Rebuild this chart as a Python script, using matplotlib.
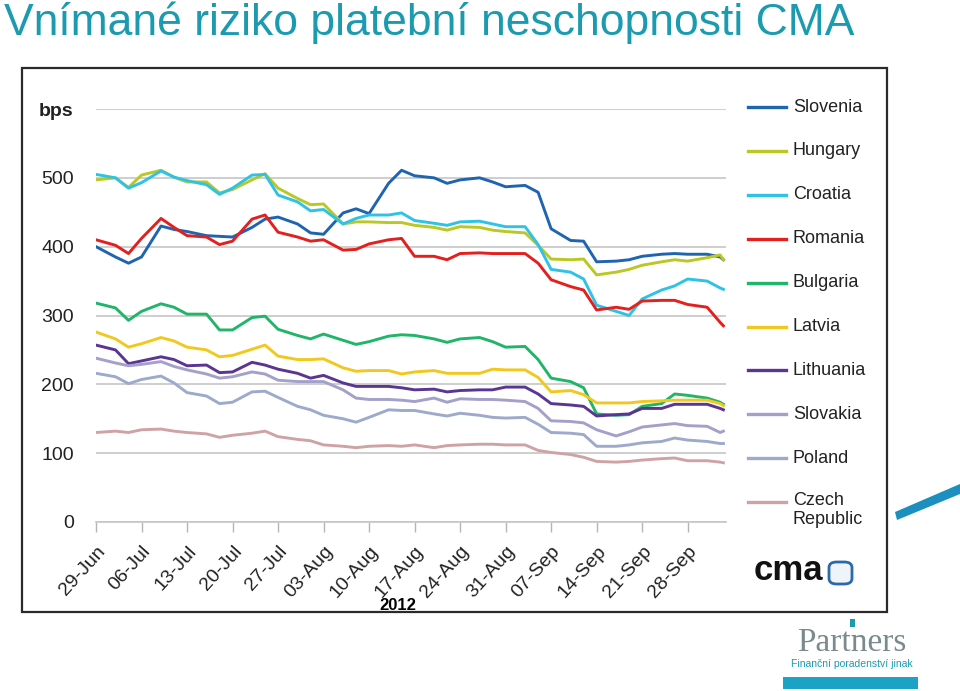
import matplotlib
matplotlib.use("Agg")
import matplotlib.pyplot as plt
from matplotlib.lines import Line2D
from matplotlib.patches import Rectangle, FancyBboxPatch, Polygon

# ---------------- data (days since 29-Jun-2012, spreads in bps) ----------------
days = [0, 3, 5, 7, 10, 12, 14, 17, 19, 21, 24, 26, 28, 31, 33, 35, 38, 40, 42, 45,
        47, 49, 52, 54, 56, 59, 61, 63, 66, 68, 70, 73, 75, 77, 80, 82, 84, 87, 89, 91,
        94, 96, 96.5]

slovenia = [400, 385, 376, 385, 430, 425, 422, 416, 415, 414, 428, 440, 443, 433, 420, 418, 449, 455, 448, 492,
            511, 503, 500, 492, 497, 500, 494, 487, 489, 479, 426, 409, 408, 378, 379, 381, 386, 389, 390, 389,
            389, 385, 381]
hungary = [497, 500, 486, 504, 511, 501, 494, 494, 478, 483, 497, 506, 485, 470, 461, 462, 433, 436, 436, 435,
           435, 431, 428, 424, 429, 428, 424, 422, 420, 402, 382, 381, 382, 359, 363, 367, 373, 378, 381, 379,
           384, 388, 381]
croatia = [505, 500, 485, 493, 510, 501, 496, 490, 476, 485, 504, 505, 475, 465, 452, 454, 433, 441, 446, 446,
           449, 438, 434, 431, 436, 437, 433, 429, 429, 403, 367, 363, 353, 315, 306, 300, 324, 337, 343, 353,
           350, 340, 338]
romania = [410, 402, 390, 412, 441, 428, 416, 414, 403, 408, 440, 446, 421, 414, 408, 410, 395, 396, 404, 410,
           412, 386, 386, 381, 390, 391, 390, 390, 390, 376, 352, 342, 337, 308, 312, 309, 321, 322, 322, 316,
           312, 290, 285]
bulgaria = [318, 311, 293, 306, 317, 312, 302, 302, 279, 279, 297, 299, 280, 271, 266, 273, 264, 258, 262, 270,
            272, 271, 266, 261, 266, 268, 262, 254, 255, 236, 209, 204, 195, 157, 155, 156, 168, 172, 186, 184,
            180, 174, 171]
latvia = [276, 266, 254, 259, 268, 263, 254, 250, 240, 242, 251, 257, 241, 236, 236, 237, 224, 219, 220, 220,
          215, 218, 220, 216, 216, 216, 222, 221, 221, 210, 189, 191, 185, 173, 173, 173, 175, 176, 177, 177,
          177, 172, 169]
lithuania = [257, 250, 230, 234, 240, 236, 227, 228, 217, 218, 232, 228, 222, 216, 209, 213, 202, 197, 197, 197,
             195, 192, 193, 189, 191, 192, 192, 196, 196, 186, 172, 170, 168, 154, 156, 157, 165, 165, 171, 171,
             171, 165, 163]
slovakia = [238, 231, 227, 229, 233, 226, 221, 215, 209, 211, 218, 215, 206, 204, 204, 204, 192, 180, 178, 178,
            177, 175, 180, 174, 179, 178, 178, 177, 175, 165, 147, 146, 144, 134, 125, 131, 138, 141, 143, 140,
            139, 130, 132]
poland = [216, 211, 201, 207, 212, 202, 188, 183, 172, 174, 189, 190, 181, 168, 163, 155, 150, 145, 152, 163,
          162, 162, 157, 154, 158, 155, 152, 151, 152, 142, 130, 129, 127, 110, 110, 112, 115, 117, 122, 119,
          117, 114, 114]
czech = [130, 132, 130, 134, 135, 132, 130, 128, 123, 126, 129, 132, 124, 120, 118, 112, 110, 108, 110, 111,
         110, 112, 108, 111, 112, 113, 113, 112, 112, 104, 101, 98, 94, 88, 87, 88, 90, 92, 93, 89,
         89, 87, 86]

country_names = ["Slovenia", "Hungary", "Croatia", "Romania", "Bulgaria", "Latvia",
                 "Lithuania", "Slovakia", "Poland", "Czech\nRepublic"]
series = [slovenia, hungary, croatia, romania, bulgaria, latvia, lithuania, slovakia, poland, czech]
colors = ["#1f64b0", "#b9c823", "#2ec3e6", "#e3201e", "#21b56a", "#f1c91e",
          "#5b3593", "#a3a0c9", "#9eaacb", "#cfa3a6"]

tick_days = [0, 7, 14, 21, 28, 35, 42, 49, 56, 63, 70, 77, 84, 91]
tick_labels = ["29-Jun", "06-Jul", "13-Jul", "20-Jul", "27-Jul", "03-Aug", "10-Aug",
               "17-Aug", "24-Aug", "31-Aug", "07-Sep", "14-Sep", "21-Sep", "28-Sep"]
y_ticks = [0, 100, 200, 300, 400, 500, 600]
y_labels = ["0", "100", "200", "300", "400", "500", "bps"]

# ---------------- figure ----------------
W, H = 960, 691
fig = plt.figure(figsize=(W / 100, H / 100), dpi=100)
plt.rcParams['font.family'] = ['Liberation Sans', 'DejaVu Sans']


def fx(px):
    return px / W


def fy(py):
    return 1 - py / H


fig.text(fx(4), fy(35), "Vnímané riziko platební neschopnosti CMA", fontsize=32,
         color="#1a9bb0", ha="left", va="baseline")

fig.patches.append(Rectangle((fx(22), fy(612)), 865 / W, 544 / H, transform=fig.transFigure,
                             fill=False, lw=1.6, ec="#2a2a2a"))

ax = fig.add_axes([fx(96), fy(522), 630 / W, 413 / H])
for name, vals, c in zip(country_names, series, colors):
    ax.plot(days, vals, color=c, lw=2.1, solid_joinstyle="round")

ax.set_xlim(0, 96.9)
ax.set_ylim(0, 600)
ax.set_yticks(y_ticks)
ax.set_yticklabels(y_labels, fontsize=14, color="#222222")
ax.get_yticklabels()[-1].set_fontweight("bold")
ax.yaxis.grid(True, color="#c6c6c6", lw=1.2)
ax.set_axisbelow(True)
ax.tick_params(axis="y", length=0, pad=16)
for s in ["top", "right", "left"]:
    ax.spines[s].set_visible(False)
ax.spines["bottom"].set_color("#c6c6c6")
ax.spines["bottom"].set_linewidth(1.2)
ax.set_xticks(tick_days)
ax.set_xticklabels(tick_labels, fontsize=14, color="#222222", rotation=48,
                   ha="right", rotation_mode="anchor")
ax.tick_params(axis="x", length=7, color="#b5b5b5", width=1.0, pad=8)

fig.text(fx(398), fy(605), "2012", fontsize=12, fontweight="bold", ha="center", va="center")

# legend (manual)
for i, (name, c) in enumerate(zip(country_names, colors)):
    yy = 107 + 43.9 * i
    fig.add_artist(Line2D([fx(748), fx(786)], [fy(yy), fy(yy)], color=c, lw=2.4,
                          transform=fig.transFigure))
    if "\n" in name:
        fig.text(fx(793), fy(yy - 10), name, fontsize=13, color="#222222", ha="left",
                 va="top", linespacing=1.15)
    else:
        fig.text(fx(793), fy(yy), name, fontsize=13, color="#222222", ha="left",
                 va="center")

# cma logo
fig.text(fx(754), fy(571), "cma", fontsize=25, fontweight="heavy", color="#111111",
         ha="left", va="center")
fig.patches.append(FancyBboxPatch((fx(829), fy(584)), 23 / W, 22 / H,
                                  boxstyle="round,pad=0.0,rounding_size=0.008",
                                  transform=fig.transFigure, fc="#eef4fa", ec="#2a6aa8", lw=2))

# Partners logo
fig.patches.append(Rectangle((fx(850), fy(627)), 5 / W, 8 / H, transform=fig.transFigure,
                             fc="#1a9bb0", ec="none"))
fig.text(fx(852), fy(651), "Partners", family="Liberation Serif", fontsize=24,
         color="#7b8a8c", ha="center", va="baseline")
fig.text(fx(852), fy(664), "Finanční poradenství jinak", fontsize=7.5,
         color="#1a9bb0", ha="center", va="center")
fig.patches.append(Rectangle((fx(783), fy(689)), 135 / W, 12 / H, transform=fig.transFigure,
                             fc="#1ba3c6", ec="none"))

# decorative stripe
fig.patches.append(Polygon([(fx(895), fy(512)), (fx(960), fy(484)), (fx(960), fy(494)),
                            (fx(897), fy(520))], closed=True, transform=fig.transFigure,
                           fc="#1a8fc0", ec="none"))

fig.savefig("out.png", dpi=100)
